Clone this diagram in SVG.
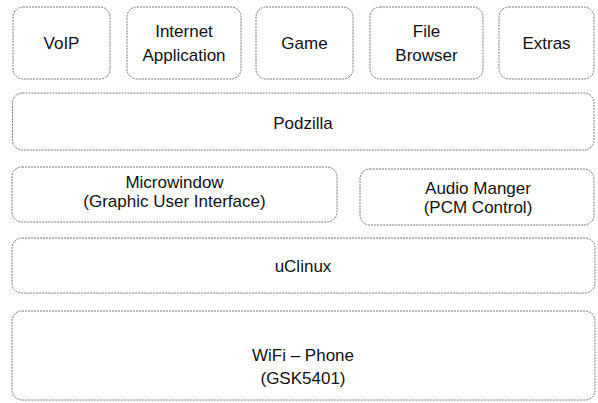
<svg xmlns="http://www.w3.org/2000/svg" width="598" height="403" viewBox="0 0 598 403">
<style>
.box{fill:#fff;stroke:#777;stroke-width:1;stroke-dasharray:2 1}
.t{font-family:"Liberation Sans",Arial,sans-serif;font-size:17px;fill:#111;text-anchor:middle}
</style>
<rect width="598" height="403" fill="#fff"/>
<g id="voip"><rect class="box" x="13" y="7" width="97" height="72" rx="10"/><text class="t" x="61.5" y="49">VoIP</text></g>
<g id="internet"><rect class="box" x="127" y="7" width="114" height="72" rx="10"/><text class="t" x="184" y="37">Internet</text><text class="t" x="184" y="61">Application</text></g>
<g id="game"><rect class="box" x="256" y="7" width="97" height="72" rx="10"/><text class="t" x="304.5" y="49">Game</text></g>
<g id="filebrowser"><rect class="box" x="370" y="7" width="113" height="72" rx="10"/><text class="t" x="426.5" y="37">File</text><text class="t" x="426.5" y="61">Browser</text></g>
<g id="extras"><rect class="box" x="499" y="7" width="95" height="72" rx="10"/><text class="t" x="546.5" y="49">Extras</text></g>
<g id="podzilla"><rect class="box" x="12.5" y="93" width="581.5" height="57" rx="10"/><text class="t" x="303" y="129">Podzilla</text></g>
<g id="microwindow"><rect class="box" x="12" y="167" width="325" height="55" rx="10"/><text class="t" x="174.5" y="188">Microwindow</text><text class="t" x="174.5" y="207">(Graphic User Interface)</text></g>
<g id="audio"><rect class="box" x="360" y="169" width="234" height="56" rx="10"/><text class="t" x="478" y="194">Audio Manger</text><text class="t" x="478" y="213">(PCM Control)</text></g>
<g id="uclinux"><rect class="box" x="12" y="238" width="583" height="55" rx="10"/><text class="t" x="303" y="272">uClinux</text></g>
<g id="wifiphone"><rect class="box" x="12" y="311" width="583" height="89" rx="10"/><text class="t" x="303" y="361">WiFi – Phone</text><text class="t" x="303" y="384">(GSK5401)</text></g>
<g id="connectors"></g>
</svg>
